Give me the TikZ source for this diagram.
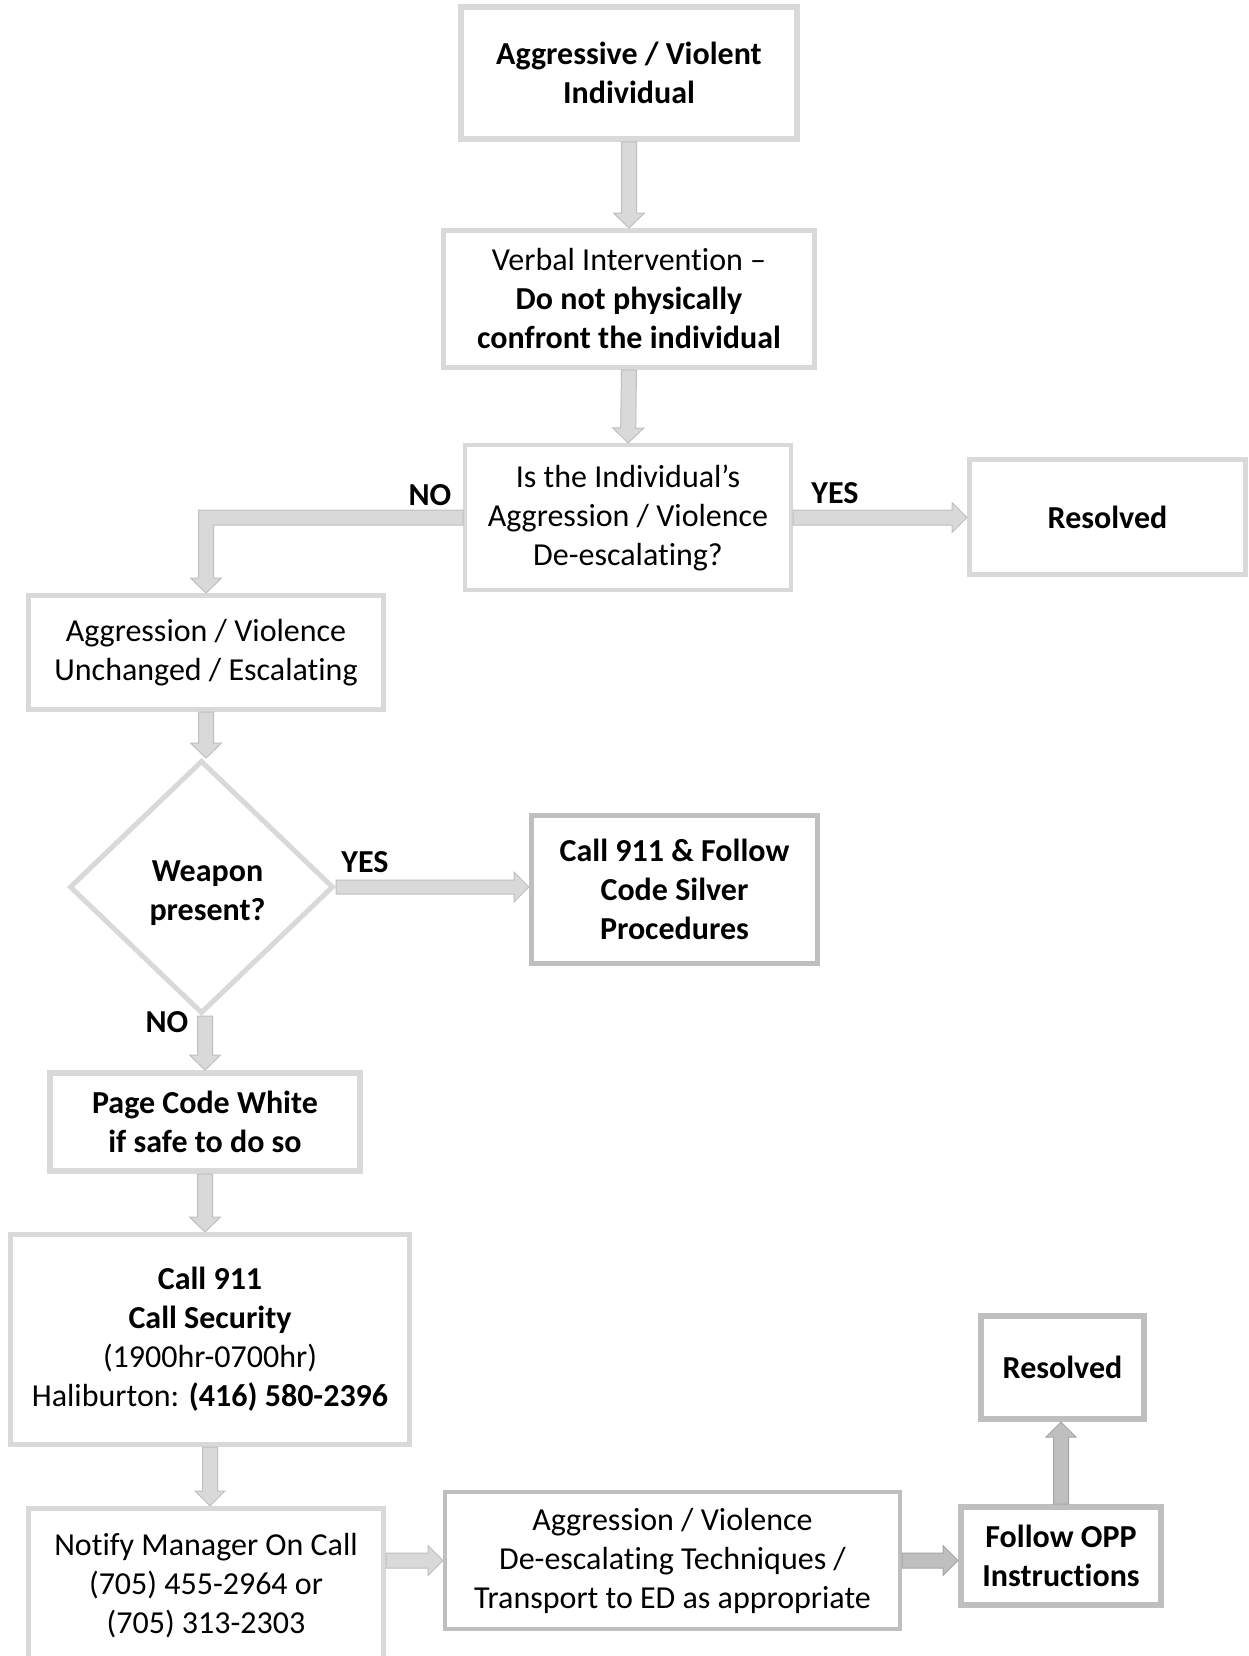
\documentclass[tikz,border=0pt]{standalone}
\usepackage{fontspec}
\setmainfont[Ligatures=NoCommon]{Carlito}
\usetikzlibrary{shapes.geometric,calc}
\definecolor{lgray}{HTML}{D9D9D9}
\definecolor{mgray}{HTML}{BFBFBF}
\definecolor{dgray}{HTML}{A6A6A6}
\tikzset{
  box/.style={draw=lgray, line width=5pt, fill=white, align=center, inner sep=0pt,
    font=\fontsize{32}{39}\selectfont},
  dbox/.style={box, draw=mgray},
  larr/.style={fill=lgray, draw=mgray, line width=1pt},
  darr/.style={fill=mgray, draw=dgray, line width=1pt},
  lbl/.style={font=\fontsize{32}{39}\selectfont\bfseries, inner sep=0pt},
}
\newcommand\blkarr[5][larr]{%
  \coordinate (bk-s) at (#2);
  \coordinate (bk-e) at (#3);
  \coordinate (bk-h) at ($(bk-e)!15pt!(bk-s)$);
  \draw[#1] ($(bk-s)!#4!90:(bk-e)$) -- ($(bk-h)!#4!90:(bk-e)$) -- ($(bk-h)!#5!90:(bk-e)$)
    -- (bk-e) -- ($(bk-h)!#5!-90:(bk-e)$) -- ($(bk-h)!#4!-90:(bk-e)$)
    -- ($(bk-s)!#4!-90:(bk-e)$) -- cycle;
}
\begin{document}
\begin{tikzpicture}[x=1pt,y=-1pt]
\useasboundingbox (0,0) rectangle (1248,1656);
\fill[white] (0,0) rectangle (1248,1656);

\node[box, line width=6pt, minimum width=336, minimum height=132] (b1) at (629,73)
  {\textbf{Aggressive / Violent}\\\textbf{Individual}};
\node[box, minimum width=371, minimum height=137] (b2) at (629,299)
  {Verbal Intervention –\\\textbf{Do not physically}\\\textbf{confront the individual}};
\node[box, line width=4pt, minimum width=326, minimum height=145] (b3) at (628,517.5)
  {Is the Individual’s\\Aggression / Violence\\De-escalating?};
\node[box, minimum width=276, minimum height=115] (r1) at (1107.5,517)
  {\textbf{Resolved}};
\node[box, minimum width=355, minimum height=114] (b4) at (206,652.5)
  {Aggression / Violence\\Unchanged / Escalating};
\node[box, diamond, minimum width=264, minimum height=253,
  label={[font=\fontsize{32}{39}\selectfont\bfseries, align=center, inner sep=0pt, xshift=6pt, yshift=-6pt]center:{Weapon\\present?}}]
  (d1) at (201.5,887) {};
\node[dbox, minimum width=286, minimum height=148] (cs) at (674.5,889.5)
  {\textbf{Call 911 \& Follow}\\\textbf{Code Silver}\\\textbf{Procedures}};
\node[box, line width=6pt, minimum width=310, minimum height=98] (pw) at (205,1122)
  {\textbf{Page Code White}\\\textbf{if safe to do so}};
\node[box, minimum width=399, minimum height=210] (c9) at (210,1339.5)
  {\textbf{Call 911}\\\textbf{Call Security}\\(1900hr-0700hr)\\Haliburton: \textbf{(416) 580-2396}};
\node[box, minimum width=355, minimum height=154] (nm) at (206,1585.5)
  {Notify Manager On Call\\(705) 455-2964 or\\(705) 313-2303};
\node[dbox, line width=4pt, minimum width=455, minimum height=137] (ag) at (672.5,1560.5)
  {Aggression / Violence\\De-escalating Techniques /\\Transport to ED as appropriate};
\node[dbox, line width=6pt, minimum width=200, minimum height=98] (op) at (1061,1556)
  {\textbf{Follow OPP}\\\textbf{Instructions}};
\node[dbox, line width=6pt, minimum width=163, minimum height=103] (r2) at (1062.5,1367.5)
  {\textbf{Resolved}};

% connectors
\blkarr{b1.south}{b2.north}{7.5pt}{15.5pt}
\blkarr{b2.south}{b3.north}{7.5pt}{15.5pt}
\blkarr{b3.east}{r1.west |- b3.east}{7.5pt}{15pt}
\draw[larr] let \p1=(b3.west), \p2=(b4.north) in
  (\x1,\y1+7.5pt) -- (\x2-7.5pt,\y1+7.5pt) -- (\x2-7.5pt,\y2+15pt) -- (\x2-15.5pt,\y2+15pt)
  -- (\x2,\y2) -- (\x2+15.5pt,\y2+15pt) -- (\x2+7.5pt,\y2+15pt) -- (\x2+7.5pt,\y1-7.5pt)
  -- (\x1,\y1-7.5pt) -- cycle;
\blkarr{b4.south}{b4.south |- d1.north}{7.5pt}{15.5pt}
\blkarr{d1.east}{cs.west |- d1.east}{7pt}{15pt}
\blkarr{pw.north |- d1.south}{pw.north}{7.5pt}{15.5pt}
\blkarr{pw.south}{pw.south |- c9.north}{7.5pt}{15.5pt}
\blkarr{c9.south}{c9.south |- nm.north}{7.5pt}{15pt}
\blkarr{nm.east |- ag.west}{ag.west}{7.5pt}{15pt}
\blkarr[darr]{ag.east}{op.west |- ag.east}{7.5pt}{15pt}
\blkarr[darr]{op.north}{op.north |- r2.south}{7.5pt}{15pt}

% labels
\node[lbl] (no1) at (430,495) {NO};
\node[lbl] (yes1) at (835,493) {YES};
\node[lbl] (yes2) at (365,862) {YES};
\node[lbl] (no2) at (167,1022) {NO};
\end{tikzpicture}
\end{document}
